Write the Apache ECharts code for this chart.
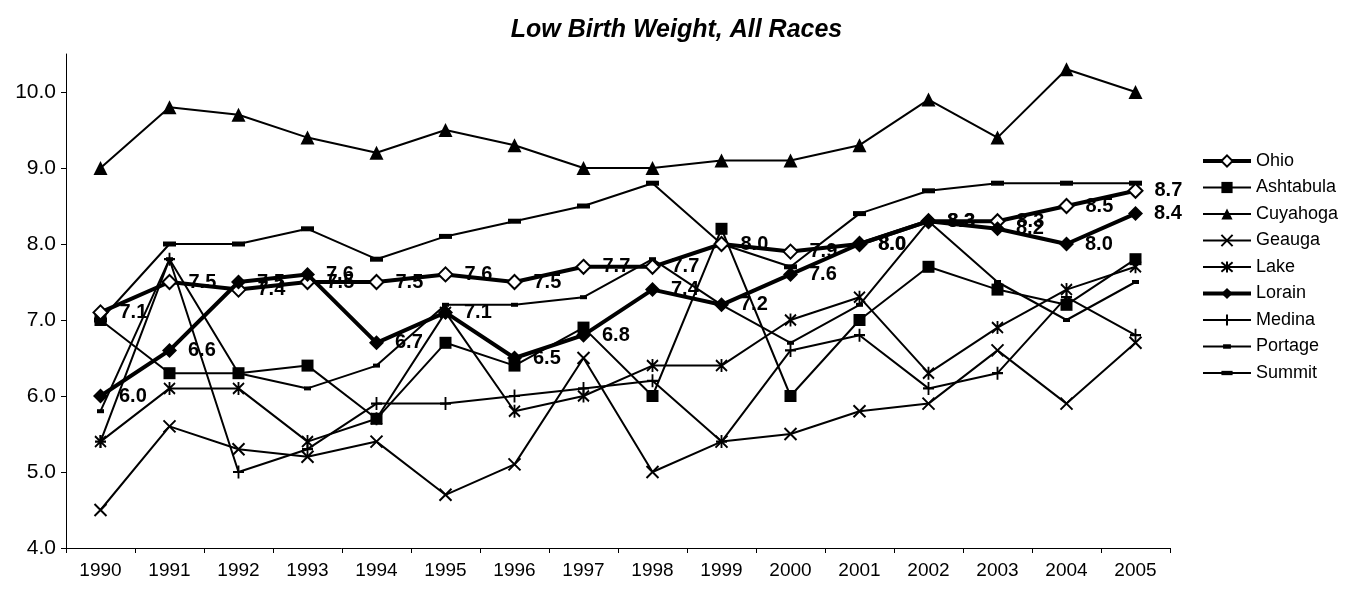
<!DOCTYPE html>
<html>
<head>
<meta charset="utf-8">
<title>Low Birth Weight, All Races</title>
<script src="https://cdn.jsdelivr.net/npm/echarts@6/dist/echarts.min.js"></script>
<style>
    html, body { margin: 0; padding: 0; background: #fff; }
    #chart { width: 1353px; height: 600px; }
</style>
</head>
<body>
<div id="chart"></div>
<script>
// data
let years = ['1990','1991','1992','1993','1994','1995','1996','1997','1998','1999','2000','2001','2002','2003','2004','2005'];
let yTicks = [4, 5, 6, 7, 8, 9, 10];

let ohio      = [7.1, 7.5, 7.4, 7.5, 7.5, 7.6, 7.5, 7.7, 7.7, 8.0, 7.9, 8.0, 8.3, 8.3, 8.5, 8.7];
let ashtabula = [7.0, 6.3, 6.3, 6.4, 5.7, 6.7, 6.4, 6.9, 6.0, 8.2, 6.0, 7.0, 7.7, 7.4, 7.2, 7.8];
let cuyahoga  = [9.0, 9.8, 9.7, 9.4, 9.2, 9.5, 9.3, 9.0, 9.0, 9.1, 9.1, 9.3, 9.9, 9.4, 10.3, 10.0];
let geauga    = [4.5, 5.6, 5.3, 5.2, 5.4, 4.7, 5.1, 6.5, 5.0, 5.4, 5.5, 5.8, 5.9, 6.6, 5.9, 6.7];
let lake      = [5.4, 6.1, 6.1, 5.4, 5.7, 7.1, 5.8, 6.0, 6.4, 6.4, 7.0, 7.3, 6.3, 6.9, 7.4, 7.7];
let lorain    = [6.0, 6.6, 7.5, 7.6, 6.7, 7.1, 6.5, 6.8, 7.4, 7.2, 7.6, 8.0, 8.3, 8.2, 8.0, 8.4];
let medina    = [5.4, 7.8, 5.0, 5.3, 5.9, 5.9, 6.0, 6.1, 6.2, 5.4, 6.6, 6.8, 6.1, 6.3, 7.3, 6.8];
let portage   = [5.8, 7.8, 6.3, 6.1, 6.4, 7.2, 7.2, 7.3, 7.8, 7.2, 6.7, 7.2, 8.3, 7.5, 7.0, 7.5];
let summit    = [7.0, 8.0, 8.0, 8.2, 7.8, 8.1, 8.3, 8.5, 8.8, 8.0, 7.7, 8.4, 8.7, 8.8, 8.8, 8.8];

let font = 'Liberation Sans, Arial, sans-serif';

// 线条系列的公共样式
function makeSeries(name, data, symbol, size, opts) {
    opts = opts || {};
    return {
        name: name,
        type: 'line',
        data: data,
        symbol: symbol,
        symbolSize: size,
        showAllSymbol: true,
        lineStyle: { color: '#000', width: opts.width || 2 },
        itemStyle: {
            color: opts.fill || '#000',
            borderColor: '#000',
            borderWidth: opts.border || 0
        },
        label: opts.label ? {
            show: true,
            position: 'right',
            distance: 11,
            color: '#000',
            fontFamily: font,
            fontWeight: 'bold',
            fontSize: 20,
            formatter: function (p) { return p.value.toFixed(1); }
        } : { show: false },
        emphasis: { disabled: true },
        z: opts.z || 2
    };
}

let xPath = 'path://M0,0L10,10M0,10L10,0';
let starPath = 'path://M0,1L10,11M0,11L10,1M5,0L5,12';
let plusPath = 'path://M5,0L5,12M0,6L10,6';
// dashes padded to a square box so the legend does not stretch them
let smallDash = 'path://M0,0M10,10M1.5,3L8.5,3L8.5,7L1.5,7Z';
let wideDash = 'path://M0,0M13,13M0,4L13,4L13,9L0,9Z';

let option = {
    animation: false,
    backgroundColor: '#fff',
    title: {
        text: 'Low Birth Weight, All Races',
        left: 'center',
        top: 13,
        textStyle: {
            fontFamily: font,
            fontSize: 25,
            fontWeight: 'bold',
            fontStyle: 'italic',
            color: '#000'
        }
    },
    legend: {
        orient: 'vertical',
        left: 1196,
        top: 147,
        itemWidth: 48,
        itemHeight: 14,
        itemGap: 8.5,
        lineStyle: { width: 'inherit' },
        textStyle: { fontFamily: font, fontSize: 18, color: '#000' },
        data: ['Ohio','Ashtabula','Cuyahoga','Geauga','Lake','Lorain','Medina','Portage','Summit']
    },
    grid: { left: 66, right: 183, top: 54, bottom: 52 },
    xAxis: {
        type: 'category',
        data: years,
        boundaryGap: true,
        axisLine: { lineStyle: { color: '#000', width: 1 } },
        axisTick: { show: true, length: 5, lineStyle: { color: '#000' } },
        axisLabel: { color: '#000', fontFamily: font, fontSize: 19, margin: 13 }
    },
    yAxis: {
        type: 'value',
        min: 4,
        max: 10.5,
        interval: 1,
        axisLine: { show: true, lineStyle: { color: '#000', width: 1 } },
        axisTick: { show: true, length: 5, lineStyle: { color: '#000' }, customValues: yTicks },
        axisLabel: {
            color: '#000', fontFamily: font, fontSize: 21, margin: 10,
            customValues: yTicks,
            formatter: function (v) { return v.toFixed(1); }
        },
        splitLine: { show: false }
    },
    series: [
        makeSeries('Ohio', ohio, 'diamond', 14, { width: 4, fill: '#fff', border: 2, label: true, z: 5 }),
        makeSeries('Ashtabula', ashtabula, 'rect', 12),
        makeSeries('Cuyahoga', cuyahoga, 'triangle', 14),
        makeSeries('Geauga', geauga, xPath, 12, { fill: 'none', border: 2 }),
        makeSeries('Lake', lake, starPath, [11, 13], { fill: 'none', border: 2 }),
        makeSeries('Lorain', lorain, 'diamond', 15, { width: 4, label: true, z: 6 }),
        makeSeries('Medina', medina, plusPath, [11, 13], { fill: 'none', border: 2 }),
        makeSeries('Portage', portage, smallDash, 10),
        makeSeries('Summit', summit, wideDash, 13)
    ]
};

let myChart = echarts.init(document.getElementById('chart'));
myChart.setOption(option);
</script>
</body>
</html>
